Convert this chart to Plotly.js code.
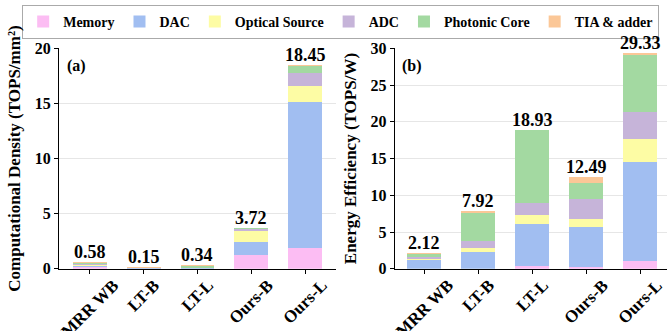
<!DOCTYPE html>
<html><head><meta charset="utf-8">
<script src="https://cdn.plot.ly/plotly-3.0.1.min.js"></script>
<style>html,body{margin:0;padding:0;background:#fff}#c{width:668px;height:331px}</style>
</head><body><div id="c"></div>
<script>
const categories = ["MRR WB", "LT-B", "LT-L", "Ours-B", "Ours-L"];
const components = ["Memory", "DAC", "Optical Source", "ADC", "Photonic Core", "TIA & adder"];
const colors = ["#fcbdf3", "#a1bef1", "#fdfca4", "#c6b4d9", "#a3d9a1", "#fbc797"];

// (a) Computational density (TOPS/mm^2)
const densMemory   = [0.12, 0.01, 0.01, 1.24, 1.88];
const densDAC      = [0.14, 0.02, 0.03, 1.18, 13.21];
const densOptical  = [0.05, 0.01, 0.01, 0.97, 1.51];
const densADC      = [0.12, 0.01, 0.01, 0.21, 1.19];
const densPhotonic = [0.07, 0.03, 0.22, 0.10, 0.59];
const densTIA      = [0.08, 0.07, 0.06, 0.02, 0.07];
const densTotals   = [0.58, 0.15, 0.34, 3.72, 18.45];

// (b) Energy efficiency (TOPS/W)
const effMemory   = [0.03, 0.02, 0.41, 0.23, 1.09];
const effDAC      = [1.22, 2.25, 5.68, 5.45, 13.46];
const effOptical  = [0.03, 0.55, 1.23, 1.09, 3.13];
const effADC      = [0.27, 1.00, 1.59, 2.73, 3.68];
const effPhotonic = [0.48, 3.82, 9.91, 2.18, 7.78];
const effTIA      = [0.09, 0.28, 0.11, 0.81, 0.19];
const effTotals   = [2.12, 7.92, 18.93, 12.49, 29.33];

const densSeries = [densMemory, densDAC, densOptical, densADC, densPhotonic, densTIA];
const effSeries  = [effMemory, effDAC, effOptical, effADC, effPhotonic, effTIA];

const traces = [];
components.forEach((name, i) => {
  traces.push({type:'bar', x:categories, y:densSeries[i], name:name, legendgroup:name,
    marker:{color:colors[i], line:{width:0}}, width:0.63, xaxis:'x', yaxis:'y', showlegend:true});
});
components.forEach((name, i) => {
  traces.push({type:'bar', x:categories, y:effSeries[i], name:name, legendgroup:name,
    marker:{color:colors[i], line:{width:0}}, width:0.63, xaxis:'x2', yaxis:'y2', showlegend:false});
});

const F = "Times New Roman";
const tickF = {family:F, size:16, color:'#000', weight:'bold'};

const annotations = [];
categories.forEach((c, i) => {
  annotations.push({x:c, y:densTotals[i], xref:'x', yref:'y', text:'<b>'+densTotals[i].toFixed(2)+'</b>',
    showarrow:false, yanchor:'bottom', yshift:-2, font:{family:F, size:18, color:'#000'}});
  annotations.push({x:c, y:effTotals[i], xref:'x2', yref:'y2', text:'<b>'+effTotals[i].toFixed(2)+'</b>',
    showarrow:false, yanchor:'bottom', yshift:-2, font:{family:F, size:18, color:'#000'}});
  // rotated category labels centred under each tick (as in the reference)
  ['x', 'x2'].forEach(ax => {
    annotations.push({x:c, y:0, xref:ax, yref:(ax === 'x' ? 'y' : 'y2') + ' domain', text:'<b>'+c+'</b>',
      textangle:-45, showarrow:false, xanchor:'center', yanchor:'top', yshift:-4,
      font:{family:F, size:17, color:'#000'}});
  });
});
annotations.push({x:0.02, y:0.97, xref:'x domain', yref:'y domain', text:'<b>(a)</b>', showarrow:false,
  xanchor:'left', yanchor:'top', font:{family:F, size:16, color:'#000'}});
annotations.push({x:0.02, y:0.97, xref:'x2 domain', yref:'y2 domain', text:'<b>(b)</b>', showarrow:false,
  xanchor:'left', yanchor:'top', font:{family:F, size:16, color:'#000'}});

const xBase = {type:'category', range:[-0.57, 4.57], showticklabels:false,
  showline:true, linecolor:'#000', linewidth:1, ticks:'outside', ticklen:4, tickcolor:'#000',
  showgrid:false, zeroline:false};
const yBase = {showline:true, linecolor:'#000', linewidth:1, ticks:'outside', ticklen:4, tickcolor:'#000',
  tickfont:tickF, showgrid:true, gridcolor:'#e6e6e6', gridwidth:1, zeroline:false};

const layout = {
  width:668, height:331, margin:{l:0, r:0, t:0, b:0},
  paper_bgcolor:'#fff', plot_bgcolor:'#fff', barmode:'stack', bargap:0.37,
  font:{family:F, color:'#000'},
  xaxis:Object.assign({}, xBase, {domain:[0.0883, 0.503], anchor:'y'}),
  xaxis2:Object.assign({}, xBase, {domain:[0.591, 0.999], range:[-0.55, 4.5], anchor:'y2'}),
  yaxis:Object.assign({}, yBase, {domain:[0.188, 0.854], range:[0, 20], dtick:5, anchor:'x',
    title:{text:'<b>Computational Density (TOPS/mm²)</b>', font:{family:F, size:17, color:'#000'}, standoff:9}}),
  yaxis2:Object.assign({}, yBase, {domain:[0.188, 0.854], range:[0, 30], dtick:5, anchor:'x2',
    title:{text:'<b>Energy Efficiency (TOPS/W)</b>', font:{family:F, size:17, color:'#000'}, standoff:9}}),
  legend:{orientation:'h', x:0.51, xanchor:'center', y:0.985, yanchor:'top',
    bordercolor:'#aaa', borderwidth:1, bgcolor:'#fff',
    font:{family:F, size:14, color:'#000', weight:'bold'}, traceorder:'normal'},
  annotations:annotations,
  showlegend:true
};

Plotly.newPlot('c', traces, layout, {displayModeBar:false, staticPlot:true});
</script></body></html>
